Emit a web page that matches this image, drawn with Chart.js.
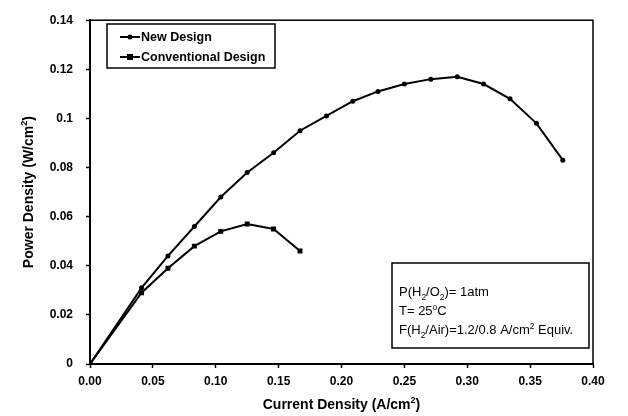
<!DOCTYPE html>
<html>
<head>
<meta charset="utf-8">
<script src="https://cdn.jsdelivr.net/npm/chart.js@4.4.1/dist/chart.umd.min.js"></script>
<style>
  html, body { margin: 0; padding: 0; background: #fff; }
  canvas { display: block; }
</style>
</head>
<body>
<canvas id="powerChart" width="628" height="416"></canvas>
<script>
/* =====================================
   Data
===================================== */
const newDesignX = [0, 0.041, 0.062, 0.083, 0.104, 0.125, 0.146, 0.167, 0.188,
  0.209, 0.229, 0.250, 0.271, 0.292, 0.313, 0.334, 0.355, 0.376];
const newDesignY = [0, 0.031, 0.044, 0.056, 0.068, 0.078, 0.086, 0.095, 0.101,
  0.107, 0.111, 0.114, 0.116, 0.117, 0.114, 0.108, 0.098, 0.083];

const convDesignX = [0, 0.041, 0.062, 0.083, 0.104, 0.125, 0.146, 0.167];
const convDesignY = [0, 0.029, 0.039, 0.048, 0.054, 0.057, 0.055, 0.046];

const seriesNames = ["New Design", "Conventional Design"];

const xTicks = [0, 0.05, 0.10, 0.15, 0.20, 0.25, 0.30, 0.35, 0.40];
const yTicks = [0, 0.02, 0.04, 0.06, 0.08, 0.1, 0.12, 0.14];

const FONT = "'Liberation Sans', Arial, sans-serif";

function toPoints(xs, ys) {
  return xs.map((x, i) => ({ x: x, y: ys[i] }));
}

/* =====================================
   Text helper (sub / superscript runs)
===================================== */
function richWidth(ctx, parts, size, weight) {
  let w = 0;
  parts.forEach(([txt, kind]) => {
    const fs = kind ? size * 0.65 : size;
    ctx.font = weight + " " + fs + "px " + FONT;
    w += ctx.measureText(txt).width;
  });
  return w;
}

function drawRich(ctx, parts, x, y, size, weight) {
  let cx = x;
  parts.forEach(([txt, kind]) => {
    let fs = size;
    let dy = 0;
    if (kind === "sub") { fs = size * 0.65; dy = size * 0.28; }
    if (kind === "sup") { fs = size * 0.65; dy = -size * 0.42; }
    ctx.font = weight + " " + fs + "px " + FONT;
    ctx.fillText(txt, cx, y + dy);
    cx += ctx.measureText(txt).width;
  });
}

/* =====================================
   Frame, titles, legend and note box
===================================== */
const decorPlugin = {
  id: "decor",
  afterDraw(chart) {
    const ctx = chart.ctx;
    const a = chart.chartArea;
    ctx.save();
    ctx.fillStyle = "#000";
    ctx.strokeStyle = "#000";

    // plot frame
    ctx.lineWidth = 1.5;
    ctx.strokeRect(a.left, a.top, a.right - a.left, a.bottom - a.top);

    // axis titles
    ctx.textBaseline = "alphabetic";
    const xTitle = [["Current Density (A/cm", ""], ["2", "sup"], [")", ""]];
    const xw = richWidth(ctx, xTitle, 14, "bold");
    drawRich(ctx, xTitle, (a.left + a.right) / 2 - xw / 2, 409, 14, "bold");

    const yTitle = [["Power Density (W/cm", ""], ["2", "sup"], [")", ""]];
    const yw = richWidth(ctx, yTitle, 14, "bold");
    ctx.save();
    ctx.translate(33, (a.top + a.bottom) / 2);
    ctx.rotate(-Math.PI / 2);
    drawRich(ctx, yTitle, -yw / 2, 0, 14, "bold");
    ctx.restore();

    // legend
    ctx.lineWidth = 1.5;
    ctx.strokeRect(107, 24, 168, 44);
    ctx.textBaseline = "middle";
    ctx.font = "bold 12.5px " + FONT;
    const rows = [37, 57];
    chart.data.datasets.forEach((ds, i) => {
      const y = rows[i];
      ctx.lineWidth = 2;
      ctx.beginPath();
      ctx.moveTo(120, y);
      ctx.lineTo(140, y);
      ctx.stroke();
      if (ds.pointStyle === "rect") {
        ctx.fillRect(127, y - 3, 6, 6);
      } else {
        ctx.beginPath();
        ctx.arc(130, y, 2.5, 0, Math.PI * 2);
        ctx.fill();
      }
      ctx.fillText(ds.label, 141, y + 1);
    });

    // note box
    ctx.lineWidth = 1.5;
    ctx.strokeRect(392, 263, 197, 85);
    ctx.textBaseline = "alphabetic";
    drawRich(ctx, [["P(H", ""], ["2", "sub"], ["/O", ""], ["2", "sub"], [")= 1atm", ""]], 399, 296, 13, "normal");
    drawRich(ctx, [["T= 25", ""], ["o", "sup"], ["C", ""]], 399, 315, 13, "normal");
    drawRich(ctx, [["F(H", ""], ["2", "sub"], ["/Air)=1.2/0.8 A/cm", ""], ["2", "sup"], [" Equiv.", ""]], 399, 334, 13, "normal");

    ctx.restore();
  }
};

/* =====================================
   Chart
===================================== */
function drawPowerChart() {
  const canvas = document.getElementById("powerChart");

  new Chart(canvas, {
    type: "scatter",
    data: {
      datasets: [
        {
          label: seriesNames[0],
          data: toPoints(newDesignX, newDesignY),
          showLine: true,
          borderColor: "#000",
          backgroundColor: "#000",
          borderWidth: 2,
          pointStyle: "circle",
          pointRadius: 2.5,
          pointBorderWidth: 0
        },
        {
          label: seriesNames[1],
          data: toPoints(convDesignX, convDesignY),
          showLine: true,
          borderColor: "#000",
          backgroundColor: "#000",
          borderWidth: 2,
          pointStyle: "rect",
          pointRadius: 3.5,
          pointBorderWidth: 0
        }
      ]
    },
    options: {
      responsive: false,
      animation: false,
      devicePixelRatio: 1,
      layout: {
        padding: { top: 17, right: 35, left: 0, bottom: 0 }
      },
      plugins: {
        legend: { display: false },
        tooltip: { enabled: false }
      },
      scales: {
        x: {
          type: "linear",
          min: 0,
          max: 0.4,
          afterFit: (s) => { s.height = 52; },
          afterBuildTicks: (s) => { s.ticks = xTicks.map((v) => ({ value: v })); },
          ticks: {
            color: "#000",
            padding: 6,
            font: { family: FONT, size: 12, weight: "bold" },
            callback: (v) => Number(v).toFixed(2)
          },
          grid: {
            drawOnChartArea: false,
            color: "#000",
            tickLength: 4,
            tickWidth: 1.5
          },
          border: { color: "#000", width: 2 }
        },
        y: {
          type: "linear",
          min: 0,
          max: 0.14,
          afterFit: (s) => { s.width = 90; },
          afterBuildTicks: (s) => { s.ticks = yTicks.map((v) => ({ value: v })); },
          ticks: {
            color: "#000",
            padding: 13,
            font: { family: FONT, size: 12, weight: "bold" },
            callback: (v) => String(parseFloat(Number(v).toFixed(2)))
          },
          grid: {
            drawOnChartArea: false,
            color: "#000",
            tickLength: 4,
            tickWidth: 1.5
          },
          border: { color: "#000", width: 2 }
        }
      }
    },
    plugins: [decorPlugin]
  });
}

drawPowerChart();
</script>
</body>
</html>
